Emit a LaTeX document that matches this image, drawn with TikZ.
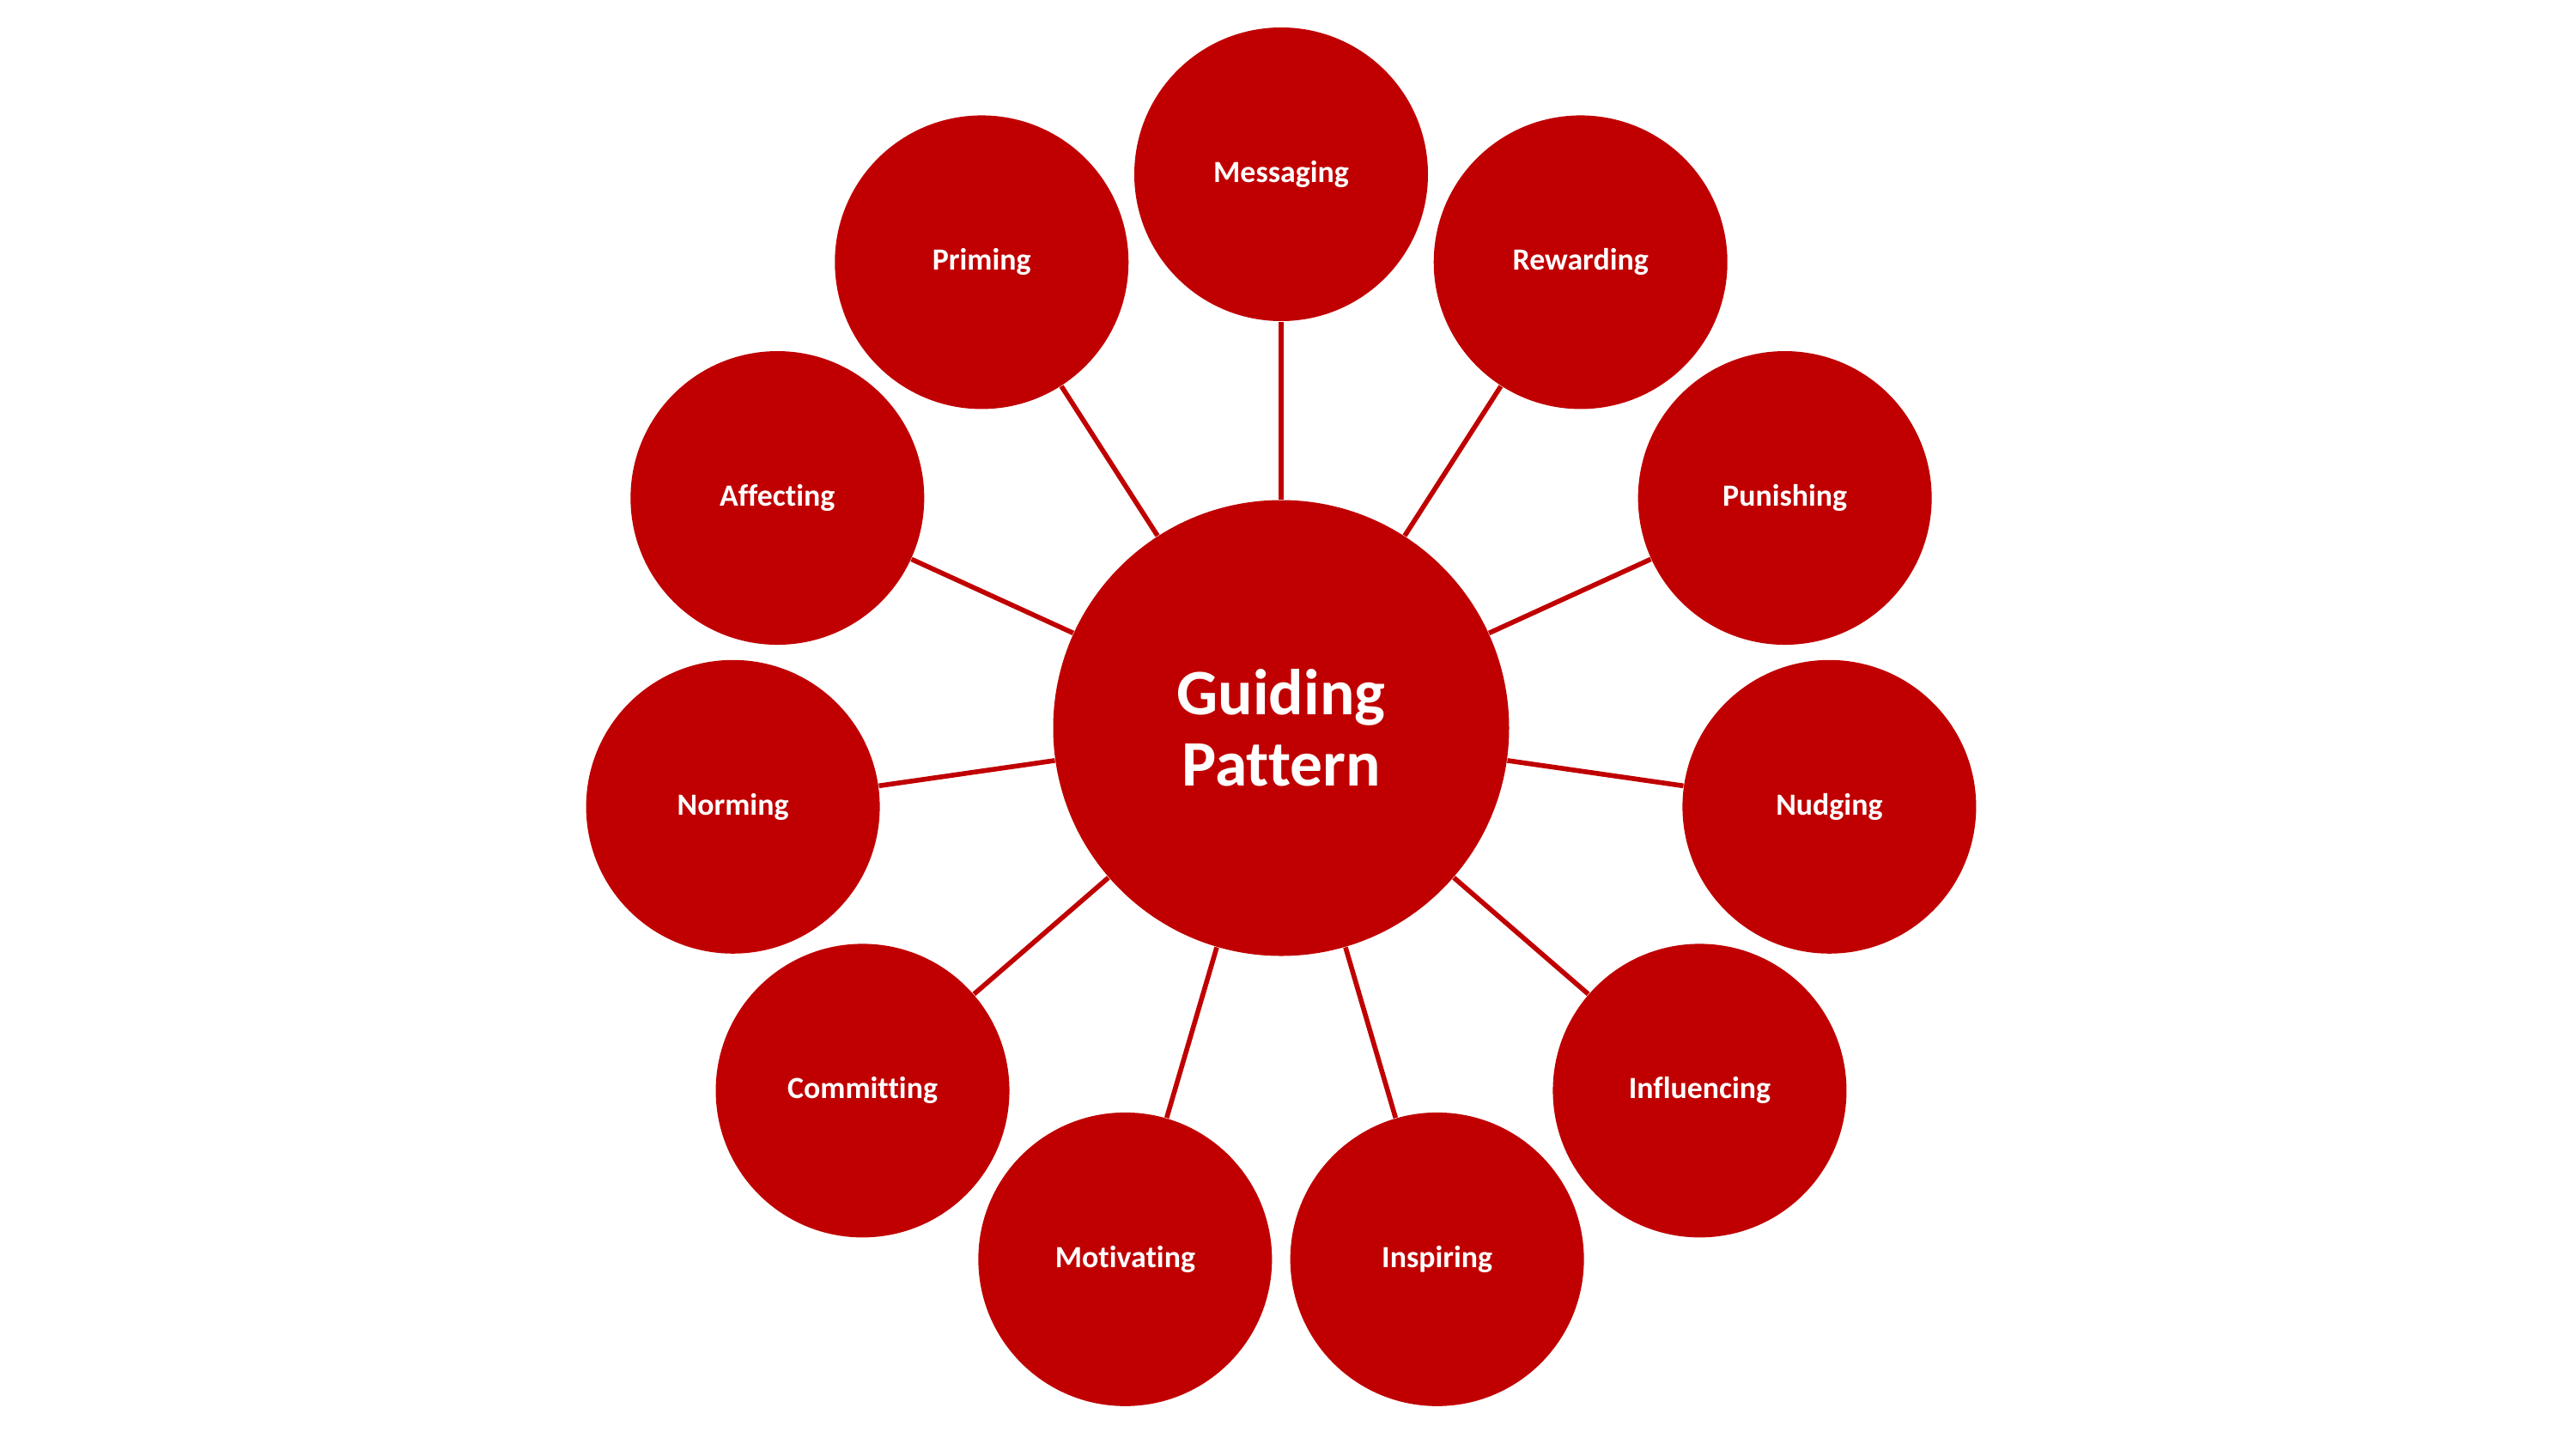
\documentclass[tikz,border=0pt]{standalone}
\usepackage{fontspec}
\setmainfont[Ligatures={NoCommon}]{Carlito}
\definecolor{guidered}{RGB}{192,0,0}

\begin{document}
\begin{tikzpicture}[
  hub/.style={circle,fill=guidered,minimum size=5.31cm,inner sep=0pt,text=white,
    font=\fontsize{21.5}{23.5}\selectfont\bfseries,align=center},
  leaf/.style={circle,fill=guidered,minimum size=3.42cm,inner sep=0pt,text=white,
    font=\fontsize{10.2}{12}\selectfont\bfseries},
  spoke/.style={guidered,line width=1.6pt}
]
  \useasboundingbox (-14.92,-8.40) rectangle (15.08,8.48);
  \node[hub] (gp) at (0,0) {Guiding\\Pattern};
  \node[leaf] (msg) at (90:6.45) {Messaging};
  \node[leaf] (rew) at (57.27:6.45) {Rewarding};
  \node[leaf] (pun) at (24.55:6.45) {Punishing};
  \node[leaf] (nud) at (-8.18:6.45) {Nudging};
  \node[leaf] (inf) at (-40.91:6.45) {Influencing};
  \node[leaf] (ins) at (-73.64:6.45) {Inspiring};
  \node[leaf] (mot) at (-106.36:6.45) {Motivating};
  \node[leaf] (com) at (-139.09:6.45) {Committing};
  \node[leaf] (nor) at (-171.82:6.45) {Norming};
  \node[leaf] (aff) at (155.45:6.45) {Affecting};
  \node[leaf] (pri) at (122.73:6.45) {Priming};
  \foreach \n in {msg,rew,pun,nud,inf,ins,mot,com,nor,aff,pri}
    \draw[spoke] (gp)--(\n);
\end{tikzpicture}
\end{document}
